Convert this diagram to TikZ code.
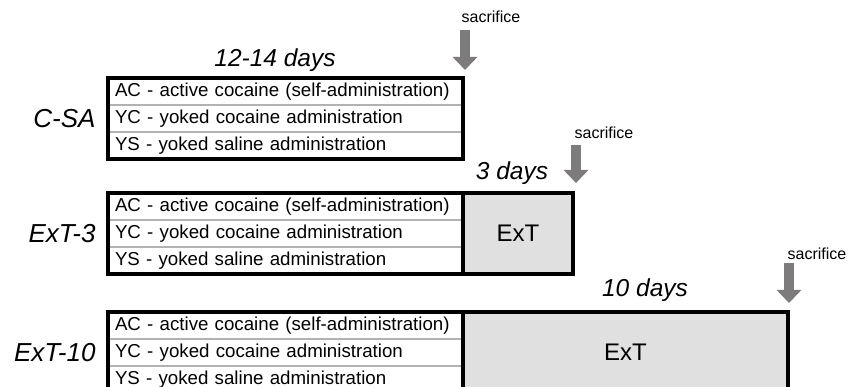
\documentclass[tikz,border=0pt]{standalone}
\usepackage{fontspec}
\setmainfont{Liberation Sans}
\usetikzlibrary{arrows.meta,positioning}
\definecolor{sacgray}{HTML}{7D7B7B}
\definecolor{extgray}{HTML}{E0E0E0}

\tikzset{
  row/.style={draw=gray!60, line width=1.2pt, outer sep=0pt, minimum height=27pt,
    inner xsep=7pt, inner ysep=0pt, text width=341pt, align=left,
    font=\fontsize{18.7}{20}\selectfont},
  frame/.style={draw=black, line width=4pt},
  ext/.style={draw=black, fill=extgray, line width=4pt, outer sep=0pt,
    minimum height=81pt, font=\fontsize{24}{26}\selectfont},
  cond/.style={font=\fontsize{26}{28}\selectfont\itshape},
  days/.style={font=\fontsize{24.5}{26}\selectfont\itshape},
  sac/.style={font=\fontsize{16}{18}\selectfont},
  sacarrow/.style={draw=sacgray, line width=10pt, -{Triangle[width=24pt,length=13pt]}}
}

\begin{document}
\begin{tikzpicture}[x=1pt,y=-1pt]
  \clip (0,0) rectangle (859,387);

  % C-SA
  \node[row, anchor=north west] (c1) at (108,78) {AC - active cocaine (self-administration)};
  \node[row, below=0pt of c1] (c2) {YC - yoked cocaine administration};
  \node[row, below=0pt of c2] (c3) {YS - yoked saline administration};
  \draw[frame] (c1.north west) rectangle (c3.south east);
  \node[cond, left=9pt of c2] (csa) {C-SA};
  \node[days] (d1) at (275,60) {12-14 days};
  \node[sac] (s1) at (491,17) {sacrifice};
  \coordinate (s1top) at (465,30);
  \coordinate (s1tip) at (465,70);
  \draw[sacarrow] (s1top) -- (s1tip);

  % ExT-3
  \node[row, anchor=north west] (e1) at (108,193) {AC - active cocaine (self-administration)};
  \node[row, below=0pt of e1] (e2) {YC - yoked cocaine administration};
  \node[row, below=0pt of e2] (e3) {YS - yoked saline administration};
  \node[ext, minimum width=110pt, anchor=north west] (x3) at (e1.north east) {ExT};
  \draw[frame] (e1.north west) rectangle (e3.south east);
  \node[cond, left=9pt of e2] (ext3) {ExT-3};
  \node[days] (d2) at (512,173) {3 days};
  \node[sac] (s2) at (604,133) {sacrifice};
  \coordinate (s2top) at (576,145);
  \coordinate (s2tip) at (576,183);
  \draw[sacarrow] (s2top) -- (s2tip);

  % ExT-10
  \node[row, anchor=north west] (t1) at (108,312) {AC - active cocaine (self-administration)};
  \node[row, below=0pt of t1] (t2) {YC - yoked cocaine administration};
  \node[row, below=0pt of t2] (t3) {YS - yoked saline administration};
  \node[ext, minimum width=325pt, anchor=north west] (x10) at (t1.north east) {ExT};
  \draw[frame] (t1.north west) rectangle (t3.south east);
  \node[cond, left=9pt of t2] (ext10) {ExT-10};
  \node[days] (d3) at (645,290) {10 days};
  \node[sac] (s3) at (817,254) {sacrifice};
  \coordinate (s3top) at (789,263);
  \coordinate (s3tip) at (789,303);
  \draw[sacarrow] (s3top) -- (s3tip);
\end{tikzpicture}
\end{document}
